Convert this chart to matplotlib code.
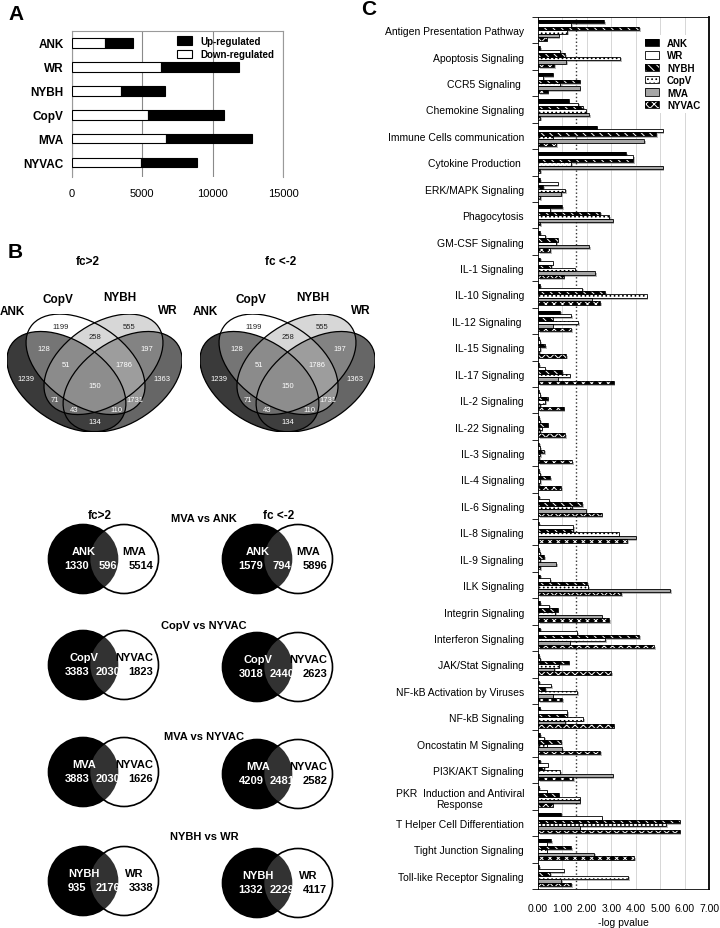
import numpy as np
import matplotlib
matplotlib.use("Agg")
import matplotlib.pyplot as plt
from matplotlib.patches import Ellipse, Circle
from matplotlib import patheffects as pe

plt.rcParams['font.family'] = ['Liberation Sans', 'DejaVu Sans']
plt.rcParams['hatch.linewidth'] = 0.7

W, H = 720, 929

# ---------------- panel A: number of regulated genes
strains = ['ANK', 'WR', 'NYBH', 'CopV', 'MVA', 'NYVAC']
down_reg = [2370, 6330, 3510, 5400, 6660, 4930]
up_reg = [1940, 5520, 3130, 5430, 6140, 3960]

# ---------------- panel B: 4-set venn (ANK, CopV, NYBH, WR), same counts in both
venn4_sets = ['ANK', 'CopV', 'NYBH', 'WR']
venn4_keys = ['1000', '0100', '0010', '0001', '1100', '0110', '0011', '1110',
              '0111', '1010', '1111', '0101', '1011', '1101', '1001']
venn4_up = [1239, 1199, 555, 1363, 128, 258, 197, 51, 1786, 71, 150, 1731, 43, 110, 134]
venn4_down = [1239, 1199, 555, 1363, 128, 258, 197, 51, 1786, 71, 150, 1731, 43, 110, 134]

# 2-set venns
pair_titles = ['MVA vs ANK', 'CopV vs NYVAC', 'MVA vs NYVAC', 'NYBH vs WR']
pair_names = [('ANK', 'MVA'), ('CopV', 'NYVAC'), ('MVA', 'NYVAC'), ('NYBH', 'WR')]
pair_up = [(1330, 596, 5514), (3383, 2030, 1823), (3883, 2030, 1626), (935, 2176, 3338)]
pair_down = [(1579, 794, 5896), (3018, 2440, 2623), (4209, 2481, 2582), (1332, 2229, 4117)]

# ---------------- panel C: pathways, -log pvalue
pathways = ['Antigen Presentation Pathway', 'Apoptosis Signaling', 'CCR5 Signaling ',
            'Chemokine Signaling', 'Immune Cells communication', 'Cytokine Production ',
            'ERK/MAPK Signaling', 'Phagocytosis', 'GM-CSF Signaling', 'IL-1 Signaling',
            'IL-10 Signaling', 'IL-12 Signaling ', 'IL-15 Signaling', 'IL-17 Signaling',
            'IL-2 Signaling', 'IL-22 Signaling', 'IL-3 Signaling', 'IL-4 Signaling',
            'IL-6 Signaling', 'IL-8 Signaling', 'IL-9 Signaling', 'ILK Signaling',
            'Integrin Signaling', 'Interferon Signaling', 'JAK/Stat Signaling',
            'NF-kB Activation by Viruses', 'NF-kB Signaling', 'Oncostatin M Signaling',
            'PI3K/AKT Signaling', 'PKR  Induction and Antiviral\nResponse',
            'T Helper Cell Differentiation', 'Tight Junction Signaling',
            'Toll-like Receptor Signaling']
ank = [2.70, 0.10, 0.60, 1.25, 2.40, 3.60, 0.10, 1.00, 0.10, 0.10, 0.10, 0.90, 0.05,
       0.05, 0.05, 0.05, 0.05, 0.05, 0.05, 0.05, 0.05, 0.10, 0.10, 0.10, 0.05, 0.05,
       0.10, 0.10, 0.10, 0.05, 0.95, 0.55, 0.05]
wr = [1.35, 0.90, 0.20, 1.65, 5.10, 3.90, 0.80, 0.50, 0.30, 0.60, 1.80, 1.35, 0.10,
      0.30, 0.10, 0.10, 0.10, 0.10, 0.45, 1.45, 0.10, 0.50, 0.45, 1.60, 0.10, 0.55,
      1.20, 0.25, 0.40, 0.35, 2.60, 0.35, 1.05]
nybh = [4.15, 1.10, 1.70, 1.85, 4.85, 3.90, 0.20, 2.55, 0.80, 0.55, 2.75, 0.60, 0.30,
        1.00, 0.40, 0.40, 0.25, 0.50, 1.80, 1.45, 0.25, 2.00, 0.80, 4.15, 1.25, 0.30,
        1.20, 0.95, 0.25, 0.85, 5.80, 1.35, 0.50]
copv = [1.20, 3.35, 0.90, 1.95, 0.60, 1.35, 1.10, 2.90, 0.75, 1.50, 4.45, 1.65, 0.10,
        1.30, 0.30, 0.15, 0.10, 0.10, 1.40, 3.30, 0.10, 2.05, 0.70, 2.75, 0.85, 1.60,
        1.85, 0.35, 0.90, 1.70, 5.25, 0.35, 3.70]
mva = [0.85, 1.15, 1.70, 2.10, 4.35, 5.10, 0.95, 3.05, 2.10, 2.35, 2.20, 0.60, 0.05,
       0.80, 0.10, 0.10, 0.05, 0.05, 1.95, 4.00, 0.75, 5.40, 2.60, 1.30, 0.65, 0.60,
       1.10, 1.00, 3.05, 1.70, 1.70, 2.30, 0.95]
nyvac = [0.35, 0.65, 0.40, 0.10, 0.75, 0.10, 0.10, 0.10, 0.50, 1.05, 2.55, 1.35, 1.15,
         3.10, 1.05, 1.10, 1.40, 0.95, 2.60, 3.65, 0.10, 3.40, 2.90, 4.75, 3.00, 1.00,
         3.10, 2.55, 1.45, 0.60, 5.80, 3.95, 1.35]
threshold = 1.55

fig = plt.figure(figsize=(W / 100, H / 100), dpi=100)


def fx(x):
    return x / W


def fy(y):
    return 1 - y / H


# ================= panel A
axa = fig.add_axes([fx(72), fy(178), 211 / W, 146 / H])
ya = np.arange(len(strains))
b_down = axa.barh(ya, down_reg, height=0.4, color='white', edgecolor='black', lw=0.8, zorder=3)
b_up = axa.barh(ya, up_reg, left=down_reg, height=0.4, color='black', edgecolor='black',
                lw=0.8, zorder=3)
axa.set_xlim(0, 15000)
axa.set_ylim(5.6, -0.5)
axa.set_xticks([0, 5000, 10000, 15000])
axa.set_yticks(ya)
axa.set_yticklabels(strains, fontweight='bold', fontsize=8.5)
axa.tick_params(axis='x', labelsize=8, length=0, pad=8)
axa.tick_params(axis='y', length=0, pad=6)
axa.grid(axis='x', color='#8a8a8a', lw=0.8)
axa.set_axisbelow(True)
for s in ['left', 'top', 'right']:
    axa.spines[s].set_color('#9a9a9a')
axa.spines['bottom'].set_visible(False)
axa.legend([b_up, b_down], ['Up-regulated', 'Down-regulated'], loc='upper right',
           frameon=False, prop={'weight': 'bold', 'size': 7}, handlelength=1.6,
           handleheight=0.9, borderaxespad=0.1, labelspacing=0.35,
           bbox_to_anchor=(0.98, 1.0))

# ================= overlay in pixel coordinates
ov = fig.add_axes([0, 0, 1, 1], zorder=5)
ov.set_xlim(0, W)
ov.set_ylim(H, 0)
ov.axis('off')

ov.text(8, 14, 'A', fontsize=15, fontweight='bold', va='center', ha='left')
ov.text(8, 252, 'B', fontsize=15, fontweight='bold', va='center', ha='left')
ov.text(361, 9, 'C', fontsize=15, fontweight='bold', va='center', ha='left')

# ---- 4-set venns
ell_specs = [  # (cx, cy, width, height, angle)  ANK, CopV, NYBH, WR
    (0.350, 0.400, 0.72, 0.45, 140.0),
    (0.450, 0.500, 0.72, 0.45, 140.0),
    (0.544, 0.500, 0.72, 0.45, 40.0),
    (0.644, 0.400, 0.72, 0.45, 40.0),
]
ell_fill = [(0.12, 0.12, 0.12, 0.88), (1, 1, 1, 0.3), (0.66, 0.66, 0.66, 0.45),
            (0.25, 0.25, 0.25, 0.8)]
region_pos = {'1000': (0.14, 0.42), '0100': (0.32, 0.72), '0010': (0.68, 0.72),
              '0001': (0.85, 0.42), '1100': (0.23, 0.59), '0110': (0.50, 0.66),
              '0011': (0.77, 0.59), '1110': (0.35, 0.50), '0111': (0.65, 0.50),
              '1010': (0.29, 0.30), '1111': (0.50, 0.38), '0101': (0.71, 0.30),
              '1011': (0.39, 0.24), '1101': (0.61, 0.24), '1001': (0.50, 0.17)}
light_regions = {'0100', '0010', '0110'}
set_lbl_pos = [(12, 312), (58, 300), (120, 298), (168, 311)]


def draw_venn4(x0, counts, title):
    ax = fig.add_axes([fx(x0), fy(433), 175 / W, 118 / H], zorder=4)
    ax.set_xlim(0.039, 0.955)
    ax.set_ylim(0.111, 0.789)
    ax.axis('off')
    for i in [0, 3, 1, 2]:
        cx, cy, w, h, a = ell_specs[i]
        ax.add_patch(Ellipse((cx, cy), w, h, angle=a, facecolor=ell_fill[i],
                             edgecolor='none'))
    for cx, cy, w, h, a in ell_specs:
        ax.add_patch(Ellipse((cx, cy), w, h, angle=a, fill=False, edgecolor='black',
                             lw=0.9))
    for k, v in zip(venn4_keys, counts):
        px, py = region_pos[k]
        ax.text(px, py, str(v), ha='center', va='center', fontsize=5.5,
                color='#222222' if k in light_regions else 'white')
    for name, (lx, ly) in zip(venn4_sets, set_lbl_pos):
        ov.text(lx + x0 - 7, ly, name, ha='center', va='center', fontsize=8.5,
                fontweight='bold')
    ov.text(x0 + 81, 262, title, ha='center', va='center', fontsize=8.5,
            fontweight='bold')


draw_venn4(7, venn4_up, 'fc>2')
draw_venn4(200, venn4_down, 'fc <-2')

# ---- 2-set venns
row_y = [560, 666, 773, 882]
title_y = [519, 626, 737, 837]
r = 34.5


def draw_venn2(cx, cy, names, counts):
    ov.add_patch(Circle((cx, cy), r, facecolor='black', edgecolor='black', lw=1.2))
    ov.add_patch(Circle((cx + 41, cy), r, facecolor=(1, 1, 1, 0.2), edgecolor='black',
                        lw=1.2))
    kw = dict(ha='center', va='center', fontsize=8, fontweight='bold')
    ov.text(cx + 1, cy - 8, names[0], color='white', **kw)
    ov.text(cx + 51, cy - 8, names[1], color='black', **kw)
    ov.text(cx - 6, cy + 6, str(counts[0]), color='white', **kw)
    ov.text(cx + 25, cy + 6, str(counts[1]), color='white', **kw)
    ov.text(cx + 58, cy + 6, str(counts[2]), color='black', **kw)


for i in range(len(pair_titles)):
    draw_venn2(83, row_y[i], pair_names[i], pair_up[i])
    draw_venn2(257, row_y[i] + (2 if i > 0 else 0), pair_names[i], pair_down[i])
    ov.text(204, title_y[i], pair_titles[i], ha='center', va='center', fontsize=8,
            fontweight='bold')
ov.text(100, 516, 'fc>2', ha='center', va='center', fontsize=8.5, fontweight='bold')
ov.text(279, 516, 'fc <-2', ha='center', va='center', fontsize=8.5, fontweight='bold')

# ================= panel C
axc = fig.add_axes([fx(538), fy(890), 171 / W, 872 / H])
series_names = ['ANK', 'WR', 'NYBH', 'CopV', 'MVA', 'NYVAC']
series = [ank, wr, nybh, copv, mva, nyvac]
styles = [('black', None, 'black'), ('white', None, 'white'),
          ('black', '\\\\\\\\', 'white'), ('white', '....', 'black'),
          ('#a6a6a6', None, '#a6a6a6'), ('black', 'xxxx', 'white')]
yc = np.arange(len(pathways))
bh = 0.13
handles = []
for j, (vals, (fc, hatch, hc)) in enumerate(zip(series, styles)):
    pos = yc - 2.5 * bh + j * bh
    axc.barh(pos, vals, height=bh, color='#888888', lw=0, zorder=2,
             path_effects=[pe.SimplePatchShadow(offset=(1.2, -1.2),
                                                shadow_rgbFace='#8c8c8c', alpha=0.6)])
    b1 = axc.barh(pos, vals, height=bh, facecolor=fc, edgecolor=hc, hatch=hatch, lw=0,
                  zorder=3)
    b2 = axc.barh(pos, vals, height=bh, fill=False, edgecolor='black', lw=0.6, zorder=4)
    handles.append((b1, b2))
axc.axvline(threshold, color='#333333', ls=':', lw=1.0, zorder=2.5)
axc.set_xlim(0, 7)
axc.set_ylim(len(pathways) - 0.5, -0.5)
axc.set_xticks(np.arange(0, 8))
axc.set_xticklabels([f'{v:.2f}' for v in range(8)])
axc.set_yticks(yc)
axc.set_yticklabels(pathways)
for lab in axc.get_yticklabels():
    lab.set_multialignment('center')
axc.set_yticks(np.arange(-0.5, len(pathways)), minor=True)
axc.tick_params(axis='y', which='major', length=0, labelsize=7.5, pad=10)
axc.tick_params(axis='y', which='minor', length=4, width=0.6)
axc.tick_params(axis='x', length=0, labelsize=7.5, pad=10)
axc.set_xlabel('-log pvalue', fontsize=7.5, labelpad=3)
axc.grid(axis='x', color='#d0d0d0', lw=0.6, zorder=0)
axc.set_axisbelow(True)
for s in axc.spines.values():
    s.set_color('black')
    s.set_linewidth(0.6)
axc.spines['right'].set_linewidth(1.3)
leg = axc.legend(handles, series_names, loc='upper right', bbox_to_anchor=(0.995, 0.985),
                 prop={'weight': 'bold', 'size': 7}, handlelength=1.5, handleheight=0.8,
                 labelspacing=0.25, borderpad=0.3, framealpha=1, fancybox=False)
leg.get_frame().set_edgecolor('none')

fig.savefig('out.png', dpi=100)
